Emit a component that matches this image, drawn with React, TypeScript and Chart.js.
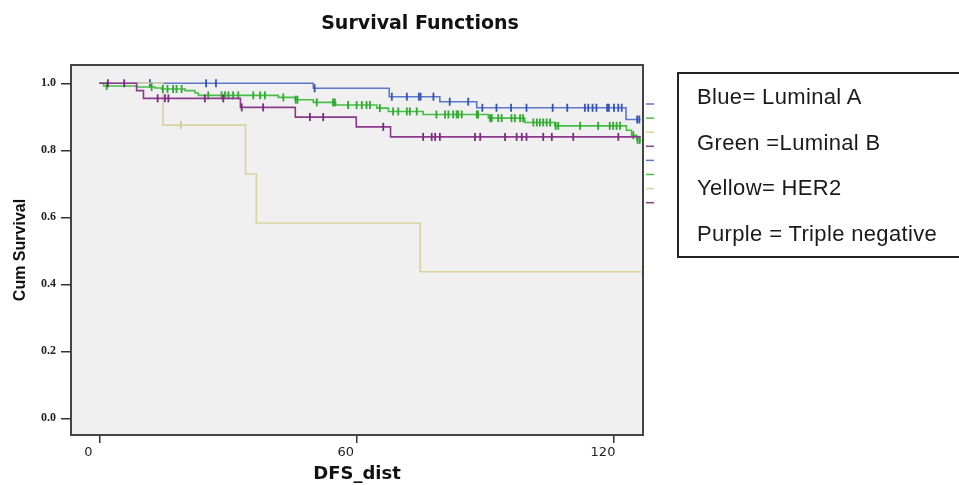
import React, { useEffect, useRef } from "react";
import { Chart, registerables } from "chart.js";

Chart.register(...registerables);

// ---- axis ticks ----
const xTicks = [0, 60, 120];
const yTicks = [0, 0.2, 0.4, 0.6, 0.8, 1.0];

// ---- Luminal A (blue) ----
const lumATimes = [0, 49.9, 67.6, 79.4, 88.0, 122.8, 126.2];
const lumASurv = [1.0, 0.985, 0.96, 0.945, 0.927, 0.892, 0.892];
const lumACensor = [11.8, 24.9, 27.2, 50.2, 68.2, 71.7, 74.5, 74.9, 77.9, 81.7, 86.0, 89.3, 92.6, 96.0, 99.6, 105.7, 109.1, 113.2, 114.0, 115.0, 115.9, 118.4, 118.8, 120.0, 121.0, 121.8, 125.4, 125.9];

// ---- Luminal B (green) ----
const lumBTimes = [0, 1, 8.7, 13, 14.5, 20, 22.3, 23.1, 41.7, 45.6, 49.9, 55.1, 64.7, 67.4, 75.5, 90.7, 99.2, 106.2, 122.9, 124.1, 125.3, 126.3];
const lumBSurv = [1, 0.992, 0.989, 0.986, 0.983, 0.978, 0.971, 0.964, 0.958, 0.951, 0.943, 0.935, 0.926, 0.916, 0.907, 0.896, 0.883, 0.873, 0.86, 0.845, 0.831, 0.831];
const lumBCensor = [1.7, 12.2, 14.8, 15.9, 17.2, 18, 19.2, 25.4, 28.5, 29.3, 30.1, 31.2, 32.4, 35.9, 37.5, 38.6, 42.9, 45.8, 46.2, 50.7, 54.5, 54.9, 58, 60, 61.2, 62.3, 63.1, 65.4, 68.5, 69.7, 71.7, 72.4, 74, 78.6, 80.6, 81.4, 82.5, 83.3, 83.7, 84.5, 88, 88.3, 91.1, 91.5, 93, 93.8, 96.1, 96.9, 98.1, 98.8, 101.2, 102, 102.7, 103.5, 104.3, 105.1, 106.4, 107, 112.1, 116.3, 119, 119.8, 120.6, 121.4, 124.5, 125.5, 126];

// ---- HER2 (yellow) ----
const her2Times = [0, 14.85, 34.1, 36.6, 74.8, 126.3];
const her2Surv = [1, 0.875, 0.729, 0.583, 0.4375, 0.4375];
const her2Censor = [19];

// ---- Triple negative (purple) ----
const tnTimes = [0, 8.7, 10.3, 32.9, 45.7, 59.9, 67.9, 126.2];
const tnSurv = [1, 0.978, 0.955, 0.928, 0.899, 0.87, 0.84, 0.84];
const tnCensor = [2, 5.8, 13.6, 15.3, 16.1, 24.6, 28.9, 33.2, 38.2, 49.1, 52.2, 66.2, 75.5, 77.5, 78.3, 79.4, 87.6, 88.8, 94.6, 97.3, 98.5, 99.6, 103.5, 105.5, 110.5, 121];

const legendLines = ["Blue= Luminal A", "Green =Luminal B", "Yellow= HER2", "Purple = Triple negative"];

const COLORS = {
  blue: "#5d77c9",
  blueMark: "#3453b4",
  green: "#46bd46",
  greenMark: "#2fa82f",
  yellow: "#d9d3a0",
  yellowMark: "#cfc88e",
  purple: "#8a3a8c",
  purpleMark: "#7d2a80",
};

function stepPoints(times: number[], surv: number[]) {
  return times.map((t, i) => ({ x: t, y: surv[i] }));
}

function survAt(times: number[], surv: number[], t: number) {
  let s = surv[0];
  for (let i = 0; i < times.length; i++) {
    if (times[i] <= t) s = surv[i];
  }
  return s;
}

function censorPoints(times: number[], surv: number[], cens: number[]) {
  return cens.map((t) => ({ x: t, y: survAt(times, surv, t) }));
}

const frameAndSidePlugin = {
  id: "frameAndSide",
  beforeDraw(chart: any) {
    const { ctx, chartArea: a } = chart;
    ctx.save();
    ctx.fillStyle = "#f0f0f0";
    ctx.fillRect(a.left, a.top, a.right - a.left, a.bottom - a.top);
    ctx.restore();
  },
  afterDraw(chart: any) {
    const { ctx, chartArea: a } = chart;
    ctx.save();
    ctx.strokeStyle = "#444";
    ctx.lineWidth = 2;
    ctx.strokeRect(a.left, a.top, a.right - a.left, a.bottom - a.top);
    // remnant legend dashes at right of frame
    const sideColors = [COLORS.blue, COLORS.green, COLORS.yellow, COLORS.purple, COLORS.blue, COLORS.green, COLORS.yellow, COLORS.purple];
    ctx.lineWidth = 1.5;
    sideColors.forEach((c, i) => {
      const y = a.top + 39 + i * 14.1;
      ctx.strokeStyle = c;
      ctx.beginPath();
      ctx.moveTo(a.right + 3, y);
      ctx.lineTo(a.right + 11, y);
      ctx.stroke();
    });
    ctx.restore();
  },
};

export default function App() {
  const canvasRef = useRef<HTMLCanvasElement | null>(null);

  useEffect(() => {
    document.body.style.margin = "0";
    const canvas = canvasRef.current;
    if (!canvas) return;

    const lineDs = (label: string, times: number[], surv: number[], color: string, order: number) => ({
      type: "line" as const,
      label,
      data: stepPoints(times, surv),
      borderColor: color,
      borderWidth: 1.6,
      stepped: true,
      pointRadius: 0,
      fill: false,
      order,
    });
    const markDs = (label: string, times: number[], surv: number[], cens: number[], color: string, order: number) => ({
      type: "scatter" as const,
      label,
      data: censorPoints(times, surv, cens),
      borderColor: color,
      backgroundColor: color,
      pointStyle: "line",
      rotation: 90,
      pointRadius: 4,
      borderWidth: 1.8,
      showLine: false,
      order,
    });

    const chart = new Chart(canvas, {
      type: "line",
      data: {
        datasets: [
          lineDs("Luminal A", lumATimes, lumASurv, COLORS.blue, 8),
          markDs("Luminal A censored", lumATimes, lumASurv, lumACensor, COLORS.blueMark, 7),
          lineDs("HER2", her2Times, her2Surv, COLORS.yellow, 6),
          markDs("HER2 censored", her2Times, her2Surv, her2Censor, COLORS.yellowMark, 5),
          lineDs("Luminal B", lumBTimes, lumBSurv, COLORS.green, 4),
          markDs("Luminal B censored", lumBTimes, lumBSurv, lumBCensor, COLORS.greenMark, 3),
          lineDs("Triple negative", tnTimes, tnSurv, COLORS.purple, 2),
          markDs("Triple negative censored", tnTimes, tnSurv, tnCensor, COLORS.purpleMark, 1),
        ] as any,
      },
      options: {
        animation: false,
        responsive: false,
        maintainAspectRatio: false,
        layout: { padding: { left: 0, right: 0, top: 0, bottom: 0 } },
        plugins: {
          legend: { display: false },
          tooltip: { enabled: false },
          title: {
            display: true,
            text: "Survival Functions",
            color: "#111",
            font: { family: "DejaVu Sans", size: 19, weight: "bold" },
            padding: { top: 13, bottom: 29.2 },
          },
        },
        scales: {
          x: {
            type: "linear",
            min: -6.6,
            max: 126.76,
            afterBuildTicks: (s: any) => {
              s.ticks = xTicks.map((v) => ({ value: v }));
            },
            afterFit: (s: any) => {
              s.height = 50;
            },
            border: { display: false },
            grid: { drawOnChartArea: false, drawTicks: true, tickLength: 8, color: "#333", lineWidth: 1.5 },
            ticks: {
              font: { family: "DejaVu Sans", size: 13 },
              color: "#222",
              padding: 2,
              labelOffset: -11,
              maxRotation: 0,
              autoSkip: false,
              callback: (v: any) => String(v),
            },
            title: {
              display: true,
              text: "DFS_dist",
              color: "#111",
              font: { family: "DejaVu Sans", size: 18, weight: "bold" },
              padding: { top: 0, bottom: 0 },
            },
          },
          y: {
            type: "linear",
            position: "left",
            min: -0.0499,
            max: 1.0546,
            afterBuildTicks: (s: any) => {
              s.ticks = yTicks.map((v) => ({ value: v }));
            },
            afterFit: (s: any) => {
              s.width = 71;
            },
            border: { display: false },
            grid: { drawOnChartArea: false, drawTicks: true, tickLength: 10, color: "#333", lineWidth: 1.5 },
            ticks: {
              font: { family: "Liberation Serif", size: 12, weight: "bold" },
              color: "#222",
              padding: 5,
              autoSkip: false,
              callback: (v: any) => Number(v).toFixed(1),
            },
            title: {
              display: true,
              text: "Cum Survival",
              color: "#111",
              font: { family: "Liberation Sans", size: 16, weight: "bold" },
              padding: { top: 11, bottom: 0 },
            },
          },
          yRight: {
            type: "linear",
            position: "right",
            display: true,
            min: 0,
            max: 1,
            afterFit: (s: any) => {
              s.width = 197;
            },
            border: { display: false },
            grid: { display: false, drawTicks: false },
            ticks: { display: false },
            title: { display: false },
          },
        },
      } as any,
      plugins: [frameAndSidePlugin],
    });

    return () => {
      chart.destroy();
    };
  }, []);

  return (
    <div style={{ position: "relative", width: 959, height: 485, overflow: "hidden", background: "#fff" }}>
      <canvas ref={canvasRef} width={840} height={485} style={{ display: "block", position: "absolute", left: 0, top: 0 }} />
      <div
        style={{
          position: "absolute",
          left: 677,
          top: 72,
          width: 300,
          height: 186,
          boxSizing: "border-box",
          border: "2px solid #222",
          fontFamily: "'Liberation Sans', Arial, sans-serif",
          fontSize: 22,
          letterSpacing: "0.35px",
          color: "#1a1a1a",
        }}
      >
        {legendLines.map((t) => (
          <div key={t} style={{ height: 45.5, lineHeight: "45.5px", paddingLeft: 18, whiteSpace: "nowrap" }}>
            {t}
          </div>
        ))}
      </div>
    </div>
  );
}
